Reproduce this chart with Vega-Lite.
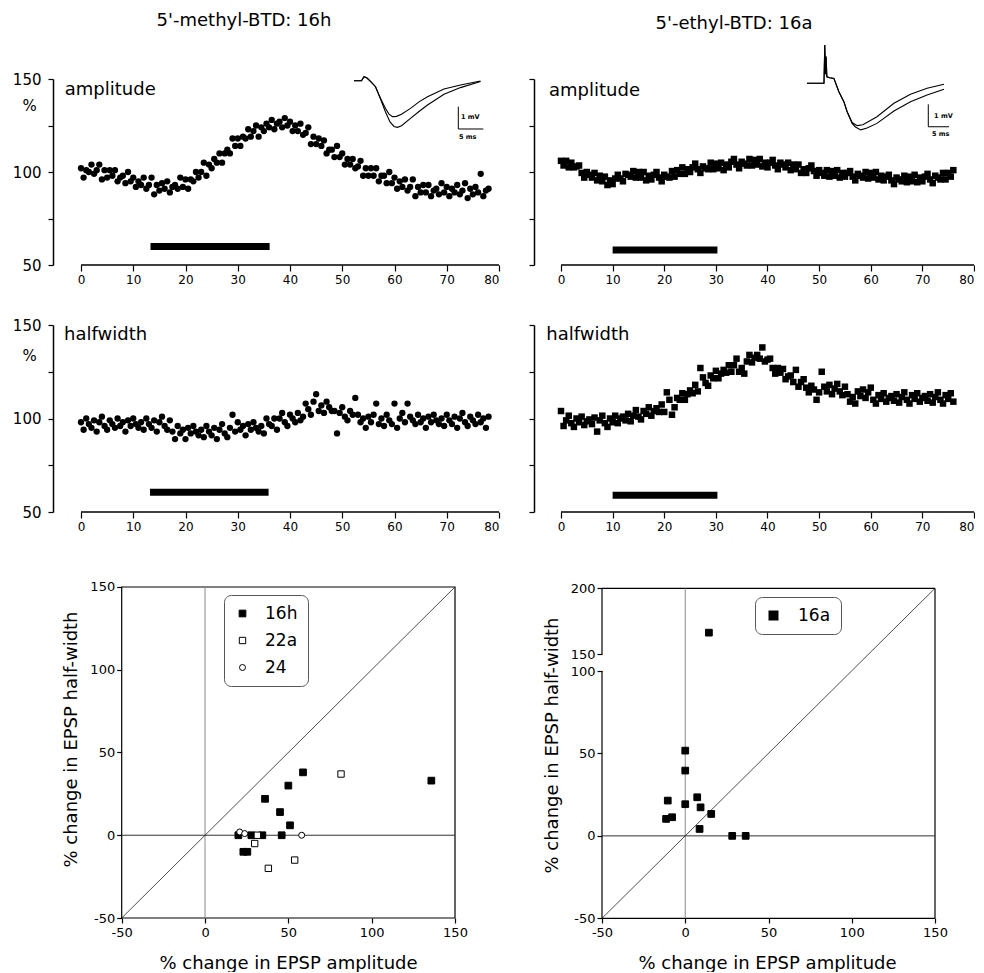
{
"$schema":"https://vega.github.io/schema/vega-lite/v6.json",
"padding":{"left":12,"top":12,"right":0,"bottom":0},
"background":"white",
"config":{"view":{"stroke":null},"font":"DejaVu Sans",
 "axis":{"grid":false,"domainColor":"black","tickColor":"black","labelColor":"black","titleColor":"black","labelFont":"DejaVu Sans","titleFont":"DejaVu Sans","titleFontWeight":"normal","domainWidth":1.5,"tickWidth":1.2},
 "text":{"font":"DejaVu Sans","color":"black"},
 "title":{"font":"DejaVu Sans","fontWeight":"normal","color":"black","fontSize":18},
 "legend":{"labelFont":"DejaVu Sans","labelColor":"black"}},
"resolve":{"scale":{"shape":"independent","fill":"independent","size":"independent","stroke":"independent"},"legend":{"shape":"independent","fill":"independent","size":"independent","stroke":"independent"}},
"datasets":{
"one":[{}],
"ampL":[{"t":0,"v":102},{"t":0.5,"v":97},{"t":1,"v":101},{"t":1.5,"v":100},{"t":2,"v":104},{"t":2.5,"v":99},{"t":3,"v":101},{"t":3.5,"v":104},{"t":4,"v":96},{"t":4.5,"v":101},{"t":5,"v":97},{"t":5.5,"v":101},{"t":6,"v":98},{"t":6.5,"v":101},{"t":7,"v":95},{"t":7.5,"v":97},{"t":8,"v":98},{"t":8.5,"v":94},{"t":9,"v":100},{"t":9.5,"v":95},{"t":10,"v":97},{"t":10.5,"v":92},{"t":11,"v":95},{"t":11.5,"v":93},{"t":12,"v":97},{"t":12.5,"v":91},{"t":13,"v":93},{"t":13.5,"v":97},{"t":14,"v":88},{"t":14.5,"v":93},{"t":15,"v":90},{"t":15.5,"v":94},{"t":16,"v":91},{"t":16.5,"v":95},{"t":17,"v":89},{"t":17.5,"v":92},{"t":18,"v":93},{"t":18.5,"v":91},{"t":19,"v":97},{"t":19.5,"v":92},{"t":20,"v":96},{"t":20.5,"v":91},{"t":21,"v":96},{"t":21.5,"v":95},{"t":22,"v":100},{"t":22.5,"v":97},{"t":23,"v":100},{"t":23.5,"v":105},{"t":24,"v":98},{"t":24.5,"v":104},{"t":25,"v":102},{"t":25.5,"v":107},{"t":26,"v":105},{"t":26.5,"v":110},{"t":27,"v":105},{"t":27.5,"v":110},{"t":28,"v":112},{"t":28.5,"v":110},{"t":29,"v":118},{"t":29.5,"v":114},{"t":30,"v":118},{"t":30.5,"v":114},{"t":31,"v":119},{"t":31.5,"v":118},{"t":32,"v":123},{"t":32.5,"v":119},{"t":33,"v":122},{"t":33.5,"v":125},{"t":34,"v":119},{"t":34.5,"v":124},{"t":35,"v":122},{"t":35.5,"v":126},{"t":36,"v":124},{"t":36.5,"v":128},{"t":37,"v":123},{"t":37.5,"v":126},{"t":38,"v":127},{"t":38.5,"v":124},{"t":39,"v":129},{"t":39.5,"v":125},{"t":40,"v":127},{"t":40.5,"v":122},{"t":41,"v":125},{"t":41.5,"v":122},{"t":42,"v":126},{"t":42.5,"v":120},{"t":43,"v":121},{"t":43.5,"v":124},{"t":44,"v":115},{"t":44.5,"v":119},{"t":45,"v":115},{"t":45.5,"v":118},{"t":46,"v":114},{"t":46.5,"v":117},{"t":47,"v":110},{"t":47.5,"v":112},{"t":48,"v":112},{"t":48.5,"v":108},{"t":49,"v":114},{"t":49.5,"v":108},{"t":50,"v":110},{"t":50.5,"v":104},{"t":51,"v":107},{"t":51.5,"v":104},{"t":52,"v":107},{"t":52.5,"v":102},{"t":53,"v":103},{"t":53.5,"v":106},{"t":54,"v":98},{"t":54.5,"v":102},{"t":55,"v":98},{"t":55.5,"v":102},{"t":56,"v":98},{"t":56.5,"v":102},{"t":57,"v":95},{"t":57.5,"v":98},{"t":58,"v":98},{"t":58.5,"v":94},{"t":59,"v":100},{"t":59.5,"v":94},{"t":60,"v":97},{"t":60.5,"v":91},{"t":61,"v":95},{"t":61.5,"v":92},{"t":62,"v":96},{"t":62.5,"v":90},{"t":63,"v":92},{"t":63.5,"v":96},{"t":64,"v":87},{"t":64.5,"v":92},{"t":65,"v":89},{"t":65.5,"v":93},{"t":66,"v":89},{"t":66.5,"v":93},{"t":67,"v":87},{"t":67.5,"v":90},{"t":68,"v":91},{"t":68.5,"v":88},{"t":69,"v":94},{"t":69.5,"v":89},{"t":70,"v":92},{"t":70.5,"v":87},{"t":71,"v":91},{"t":71.5,"v":89},{"t":72,"v":93},{"t":72.5,"v":88},{"t":73,"v":90},{"t":73.5,"v":94},{"t":74,"v":86},{"t":74.5,"v":91},{"t":75,"v":88},{"t":75.5,"v":92},{"t":76,"v":89},{"t":76.5,"v":99},{"t":77,"v":87},{"t":77.5,"v":90},{"t":78,"v":91}],
"hwL":[{"t":0,"v":98},{"t":0.5,"v":94},{"t":1,"v":100},{"t":1.5,"v":97},{"t":2,"v":95},{"t":2.5,"v":99},{"t":3,"v":93},{"t":3.5,"v":98},{"t":4,"v":101},{"t":4.5,"v":96},{"t":5,"v":94},{"t":5.5,"v":99},{"t":6,"v":97},{"t":6.5,"v":95},{"t":7,"v":100},{"t":7.5,"v":96},{"t":8,"v":98},{"t":8.5,"v":93},{"t":9,"v":99},{"t":9.5,"v":96},{"t":10,"v":100},{"t":10.5,"v":97},{"t":11,"v":95},{"t":11.5,"v":98},{"t":12,"v":94},{"t":12.5,"v":100},{"t":13,"v":97},{"t":13.5,"v":95},{"t":14,"v":99},{"t":14.5,"v":93},{"t":15,"v":98},{"t":15.5,"v":101},{"t":16,"v":96},{"t":16.5,"v":94},{"t":17,"v":99},{"t":17.5,"v":93},{"t":18,"v":89},{"t":18.5,"v":96},{"t":19,"v":92},{"t":19.5,"v":94},{"t":20,"v":89},{"t":20.5,"v":95},{"t":21,"v":92},{"t":21.5,"v":96},{"t":22,"v":93},{"t":22.5,"v":91},{"t":23,"v":94},{"t":23.5,"v":90},{"t":24,"v":96},{"t":24.5,"v":93},{"t":25,"v":91},{"t":25.5,"v":95},{"t":26,"v":89},{"t":26.5,"v":94},{"t":27,"v":97},{"t":27.5,"v":92},{"t":28,"v":90},{"t":28.5,"v":95},{"t":29,"v":102},{"t":29.5,"v":93},{"t":30,"v":98},{"t":30.5,"v":94},{"t":31,"v":96},{"t":31.5,"v":91},{"t":32,"v":97},{"t":32.5,"v":94},{"t":33,"v":98},{"t":33.5,"v":95},{"t":34,"v":93},{"t":34.5,"v":96},{"t":35,"v":92},{"t":35.5,"v":100},{"t":36,"v":97},{"t":36.5,"v":96},{"t":37,"v":100},{"t":37.5,"v":94},{"t":38,"v":100},{"t":38.5,"v":103},{"t":39,"v":98},{"t":39.5,"v":96},{"t":40,"v":102},{"t":40.5,"v":100},{"t":41,"v":98},{"t":41.5,"v":103},{"t":42,"v":99},{"t":42.5,"v":101},{"t":43,"v":108},{"t":43.5,"v":105},{"t":44,"v":102},{"t":44.5,"v":109},{"t":45,"v":113},{"t":45.5,"v":104},{"t":46,"v":107},{"t":46.5,"v":103},{"t":47,"v":109},{"t":47.5,"v":106},{"t":48,"v":104},{"t":48.5,"v":104},{"t":49,"v":92},{"t":49.5,"v":103},{"t":50,"v":106},{"t":50.5,"v":101},{"t":51,"v":99},{"t":51.5,"v":104},{"t":52,"v":102},{"t":52.5,"v":111},{"t":53,"v":102},{"t":53.5,"v":98},{"t":54,"v":100},{"t":54.5,"v":95},{"t":55,"v":101},{"t":55.5,"v":98},{"t":56,"v":102},{"t":56.5,"v":108},{"t":57,"v":97},{"t":57.5,"v":100},{"t":58,"v":96},{"t":58.5,"v":102},{"t":59,"v":99},{"t":59.5,"v":97},{"t":60,"v":108},{"t":60.5,"v":95},{"t":61,"v":100},{"t":61.5,"v":103},{"t":62,"v":98},{"t":62.5,"v":108},{"t":63,"v":101},{"t":63.5,"v":99},{"t":64,"v":97},{"t":64.5,"v":102},{"t":65,"v":98},{"t":65.5,"v":100},{"t":66,"v":95},{"t":66.5,"v":101},{"t":67,"v":98},{"t":67.5,"v":102},{"t":68,"v":99},{"t":68.5,"v":97},{"t":69,"v":100},{"t":69.5,"v":96},{"t":70,"v":102},{"t":70.5,"v":99},{"t":71,"v":97},{"t":71.5,"v":101},{"t":72,"v":95},{"t":72.5,"v":100},{"t":73,"v":103},{"t":73.5,"v":98},{"t":74,"v":96},{"t":74.5,"v":101},{"t":75,"v":99},{"t":75.5,"v":97},{"t":76,"v":102},{"t":76.5,"v":98},{"t":77,"v":100},{"t":77.5,"v":95},{"t":78,"v":101}],
"ampR":[{"t":0,"v":106},{"t":0.5,"v":103.5},{"t":1,"v":106},{"t":1.5,"v":102.5},{"t":2,"v":105},{"t":2.5,"v":102.5},{"t":3,"v":103},{"t":3.5,"v":103.5},{"t":4,"v":99.5},{"t":4.5,"v":97},{"t":5,"v":100},{"t":5.5,"v":98.5},{"t":6,"v":97},{"t":6.5,"v":99.5},{"t":7,"v":95.5},{"t":7.5,"v":98},{"t":8,"v":95},{"t":8.5,"v":97.5},{"t":9,"v":93},{"t":9.5,"v":95.5},{"t":10,"v":93.5},{"t":10.5,"v":96.5},{"t":11,"v":98.5},{"t":11.5,"v":96.5},{"t":12,"v":95},{"t":12.5,"v":99},{"t":13,"v":98.5},{"t":13.5,"v":97.5},{"t":14,"v":100.5},{"t":14.5,"v":97},{"t":15,"v":100},{"t":15.5,"v":97},{"t":16,"v":100},{"t":16.5,"v":95.5},{"t":17,"v":98},{"t":17.5,"v":96},{"t":18,"v":98.5},{"t":18.5,"v":100},{"t":19,"v":97},{"t":19.5,"v":95},{"t":20,"v":98.5},{"t":20.5,"v":97.5},{"t":21,"v":97},{"t":21.5,"v":100.5},{"t":22,"v":97.5},{"t":22.5,"v":101},{"t":23,"v":99},{"t":23.5,"v":102.5},{"t":24,"v":99},{"t":24.5,"v":101.5},{"t":25,"v":100},{"t":25.5,"v":102.5},{"t":26,"v":104.5},{"t":26.5,"v":101.5},{"t":27,"v":99.5},{"t":27.5,"v":103},{"t":28,"v":102},{"t":28.5,"v":101.5},{"t":29,"v":105},{"t":29.5,"v":101.5},{"t":30,"v":104.5},{"t":30.5,"v":102},{"t":31,"v":105},{"t":31.5,"v":101},{"t":32,"v":104},{"t":32.5,"v":102.5},{"t":33,"v":105.5},{"t":33.5,"v":107},{"t":34,"v":104},{"t":34.5,"v":102},{"t":35,"v":105.5},{"t":35.5,"v":104.5},{"t":36,"v":103.5},{"t":36.5,"v":107},{"t":37,"v":103.5},{"t":37.5,"v":106.5},{"t":38,"v":104},{"t":38.5,"v":107},{"t":39,"v":103},{"t":39.5,"v":105},{"t":40,"v":102.5},{"t":40.5,"v":105},{"t":41,"v":106.5},{"t":41.5,"v":103.5},{"t":42,"v":101.5},{"t":42.5,"v":105},{"t":43,"v":104},{"t":43.5,"v":102.5},{"t":44,"v":105},{"t":44.5,"v":101},{"t":45,"v":104},{"t":45.5,"v":101.5},{"t":46,"v":104},{"t":46.5,"v":99.5},{"t":47,"v":101.5},{"t":47.5,"v":99.5},{"t":48,"v":102},{"t":48.5,"v":103.5},{"t":49,"v":100.5},{"t":49.5,"v":98},{"t":50,"v":101},{"t":50.5,"v":99.5},{"t":51,"v":98},{"t":51.5,"v":101},{"t":52,"v":97.5},{"t":52.5,"v":100.5},{"t":53,"v":98},{"t":53.5,"v":101},{"t":54,"v":97},{"t":54.5,"v":99.5},{"t":55,"v":97.5},{"t":55.5,"v":99.5},{"t":56,"v":100.5},{"t":56.5,"v":97.5},{"t":57,"v":95.5},{"t":57.5,"v":99},{"t":58,"v":98},{"t":58.5,"v":97},{"t":59,"v":100},{"t":59.5,"v":96.5},{"t":60,"v":99.5},{"t":60.5,"v":97},{"t":61,"v":100},{"t":61.5,"v":96},{"t":62,"v":98},{"t":62.5,"v":95.5},{"t":63,"v":97.5},{"t":63.5,"v":98.5},{"t":64,"v":95.5},{"t":64.5,"v":93.5},{"t":65,"v":97},{"t":65.5,"v":96},{"t":66,"v":95},{"t":66.5,"v":98},{"t":67,"v":94.5},{"t":67.5,"v":97.5},{"t":68,"v":95},{"t":68.5,"v":98.5},{"t":69,"v":94.5},{"t":69.5,"v":97},{"t":70,"v":95},{"t":70.5,"v":97.5},{"t":71,"v":99},{"t":71.5,"v":96},{"t":72,"v":94},{"t":72.5,"v":98},{"t":73,"v":97},{"t":73.5,"v":96},{"t":74,"v":99.5},{"t":74.5,"v":96},{"t":75,"v":99.5},{"t":75.5,"v":97.5},{"t":76,"v":101}],
"hwR":[{"t":0,"v":104},{"t":0.5,"v":96},{"t":1,"v":99},{"t":1.5,"v":101.5},{"t":2,"v":97.5},{"t":2.5,"v":95.5},{"t":3,"v":100},{"t":3.5,"v":98},{"t":4,"v":101},{"t":4.5,"v":96.5},{"t":5,"v":98.5},{"t":5.5,"v":99.5},{"t":6,"v":97},{"t":6.5,"v":100.5},{"t":7,"v":93},{"t":7.5,"v":99},{"t":8,"v":101.5},{"t":8.5,"v":97.5},{"t":9,"v":95.5},{"t":9.5,"v":100},{"t":10,"v":98},{"t":10.5,"v":101.5},{"t":11,"v":97.5},{"t":11.5,"v":100},{"t":12,"v":101},{"t":12.5,"v":99},{"t":13,"v":102.5},{"t":13.5,"v":98.5},{"t":14,"v":101.5},{"t":14.5,"v":104.5},{"t":15,"v":101},{"t":15.5,"v":99.5},{"t":16,"v":104},{"t":16.5,"v":102.5},{"t":17,"v":106},{"t":17.5,"v":101.5},{"t":18,"v":104},{"t":18.5,"v":105.5},{"t":19,"v":103.5},{"t":19.5,"v":107.5},{"t":20,"v":103.5},{"t":20.5,"v":114},{"t":21,"v":110},{"t":21.5,"v":102},{"t":22,"v":106},{"t":22.5,"v":111},{"t":23,"v":110},{"t":23.5,"v":113.5},{"t":24,"v":110},{"t":24.5,"v":113},{"t":25,"v":115},{"t":25.5,"v":113.5},{"t":26,"v":118},{"t":26.5,"v":114.5},{"t":27,"v":127},{"t":27.5,"v":122},{"t":28,"v":119},{"t":28.5,"v":117.5},{"t":29,"v":123},{"t":29.5,"v":121.5},{"t":30,"v":125.5},{"t":30.5,"v":121.5},{"t":31,"v":124},{"t":31.5,"v":126},{"t":32,"v":124.5},{"t":32.5,"v":128.5},{"t":33,"v":125},{"t":33.5,"v":128.5},{"t":34,"v":132},{"t":34.5,"v":125},{"t":35,"v":127},{"t":35.5,"v":124},{"t":36,"v":130.5},{"t":36.5,"v":134},{"t":37,"v":130},{"t":37.5,"v":132.5},{"t":38,"v":134},{"t":38.5,"v":132},{"t":39,"v":138},{"t":39.5,"v":130.5},{"t":40,"v":131.5},{"t":40.5,"v":132},{"t":41,"v":127},{"t":41.5,"v":124},{"t":42,"v":127},{"t":42.5,"v":124.5},{"t":43,"v":126.5},{"t":43.5,"v":121},{"t":44,"v":122.5},{"t":44.5,"v":123},{"t":45,"v":119.5},{"t":45.5,"v":126},{"t":46,"v":117},{"t":46.5,"v":119.5},{"t":47,"v":121},{"t":47.5,"v":116.5},{"t":48,"v":114},{"t":48.5,"v":117.5},{"t":49,"v":115.5},{"t":49.5,"v":110},{"t":50,"v":114},{"t":50.5,"v":125},{"t":51,"v":117},{"t":51.5,"v":114.5},{"t":52,"v":118},{"t":52.5,"v":113},{"t":53,"v":116},{"t":53.5,"v":118.5},{"t":54,"v":114.5},{"t":54.5,"v":112.5},{"t":55,"v":117},{"t":55.5,"v":113},{"t":56,"v":109},{"t":56.5,"v":111.5},{"t":57,"v":108},{"t":57.5,"v":114.5},{"t":58,"v":112},{"t":58.5,"v":115.5},{"t":59,"v":111},{"t":59.5,"v":114},{"t":60,"v":116.5},{"t":60.5,"v":110},{"t":61,"v":108},{"t":61.5,"v":112.5},{"t":62,"v":110.5},{"t":62.5,"v":113.5},{"t":63,"v":109},{"t":63.5,"v":111},{"t":64,"v":112},{"t":64.5,"v":109.5},{"t":65,"v":113},{"t":65.5,"v":108.5},{"t":66,"v":111.5},{"t":66.5,"v":114},{"t":67,"v":110},{"t":67.5,"v":108},{"t":68,"v":112.5},{"t":68.5,"v":110.5},{"t":69,"v":113.5},{"t":69.5,"v":109},{"t":70,"v":111},{"t":70.5,"v":112},{"t":71,"v":109.5},{"t":71.5,"v":113},{"t":72,"v":108.5},{"t":72.5,"v":111.5},{"t":73,"v":114},{"t":73.5,"v":110},{"t":74,"v":108},{"t":74.5,"v":112.5},{"t":75,"v":110.5},{"t":75.5,"v":113.5},{"t":76,"v":109}],
"trL":[{"tr":"A","ms":0,"mV":0},{"tr":"A","ms":1.5,"mV":0},{"tr":"A","ms":2,"mV":0.18},{"tr":"A","ms":2.6,"mV":0.12},{"tr":"A","ms":3.4,"mV":-0.05},{"tr":"A","ms":4.3,"mV":-0.27},{"tr":"A","ms":5.3,"mV":-0.79},{"tr":"A","ms":6.3,"mV":-1.25},{"tr":"A","ms":7,"mV":-1.5},{"tr":"A","ms":7.7,"mV":-1.61},{"tr":"A","ms":8.5,"mV":-1.6},{"tr":"A","ms":9.5,"mV":-1.5},{"tr":"A","ms":11.3,"mV":-1.24},{"tr":"A","ms":13,"mV":-0.95},{"tr":"A","ms":14.7,"mV":-0.72},{"tr":"A","ms":18,"mV":-0.37},{"tr":"A","ms":21.3,"mV":-0.19},{"tr":"A","ms":25.3,"mV":-0.01},
 {"tr":"B","ms":0,"mV":0},{"tr":"B","ms":1.5,"mV":0},{"tr":"B","ms":2,"mV":0.18},{"tr":"B","ms":2.6,"mV":0.12},{"tr":"B","ms":3.4,"mV":-0.05},{"tr":"B","ms":4.3,"mV":-0.27},{"tr":"B","ms":5.3,"mV":-0.82},{"tr":"B","ms":6.3,"mV":-1.4},{"tr":"B","ms":7.2,"mV":-1.85},{"tr":"B","ms":8,"mV":-2.05},{"tr":"B","ms":8.7,"mV":-2.09},{"tr":"B","ms":9.5,"mV":-2.02},{"tr":"B","ms":11.3,"mV":-1.69},{"tr":"B","ms":13,"mV":-1.38},{"tr":"B","ms":14.7,"mV":-1.09},{"tr":"B","ms":18,"mV":-0.61},{"tr":"B","ms":21.3,"mV":-0.31},{"tr":"B","ms":25.3,"mV":-0.04}],
"trR":[{"tr":"A","ms":0,"mV":0},{"tr":"A","ms":4.1,"mV":0},{"tr":"A","ms":4.3,"mV":1.71},{"tr":"A","ms":4.45,"mV":0.4},{"tr":"A","ms":4.6,"mV":1.2},{"tr":"A","ms":4.8,"mV":0.29},{"tr":"A","ms":5.5,"mV":0.25},{"tr":"A","ms":6.5,"mV":0.22},{"tr":"A","ms":7.7,"mV":-0.375},{"tr":"A","ms":8.9,"mV":-0.82},{"tr":"A","ms":9.7,"mV":-1.27},{"tr":"A","ms":10.9,"mV":-1.75},{"tr":"A","ms":12.1,"mV":-1.89},{"tr":"A","ms":13.5,"mV":-1.85},{"tr":"A","ms":16.9,"mV":-1.49},{"tr":"A","ms":21,"mV":-0.89},{"tr":"A","ms":25,"mV":-0.49},{"tr":"A","ms":29,"mV":-0.22},{"tr":"A","ms":33.1,"mV":-0.045},
 {"tr":"B","ms":0,"mV":0},{"tr":"B","ms":4.1,"mV":0},{"tr":"B","ms":4.3,"mV":1.71},{"tr":"B","ms":4.45,"mV":0.4},{"tr":"B","ms":4.6,"mV":1.2},{"tr":"B","ms":4.8,"mV":0.29},{"tr":"B","ms":5.5,"mV":0.25},{"tr":"B","ms":6.5,"mV":0.22},{"tr":"B","ms":7.7,"mV":-0.375},{"tr":"B","ms":8.9,"mV":-0.82},{"tr":"B","ms":9.7,"mV":-1.27},{"tr":"B","ms":10.9,"mV":-1.79},{"tr":"B","ms":11.7,"mV":-1.95},{"tr":"B","ms":13,"mV":-2.08},{"tr":"B","ms":14.5,"mV":-2.0},{"tr":"B","ms":16.9,"mV":-1.79},{"tr":"B","ms":21,"mV":-1.24},{"tr":"B","ms":25,"mV":-0.82},{"tr":"B","ms":29,"mV":-0.52},{"tr":"B","ms":33.1,"mV":-0.27}],
"scatL":[{"a":20,"h":0,"s":"16h"},{"a":27.8,"h":0,"s":"16h"},{"a":34.4,"h":0,"s":"16h"},{"a":23,"h":-10,"s":"16h"},{"a":25.4,"h":-10,"s":"16h"},{"a":36,"h":22,"s":"16h"},{"a":45,"h":14,"s":"16h"},{"a":50,"h":30,"s":"16h"},{"a":51,"h":6,"s":"16h"},{"a":46,"h":0,"s":"16h"},{"a":58.8,"h":38,"s":"16h"},{"a":135.8,"h":33,"s":"16h"},{"a":29.8,"h":-5,"s":"22a"},{"a":31.4,"h":0,"s":"22a"},{"a":38,"h":-20,"s":"22a"},{"a":53.8,"h":-15,"s":"22a"},{"a":81.6,"h":37,"s":"22a"},{"a":20.8,"h":2,"s":"24"},{"a":23.8,"h":1,"s":"24"},{"a":58,"h":0,"s":"24"}],
"scatR":[{"a":14.2,"h":166.4,"s":"16a"},{"a":0,"h":51.7,"s":"16a"},{"a":0,"h":39.6,"s":"16a"},{"a":0,"h":19.2,"s":"16a"},{"a":-10.5,"h":21.4,"s":"16a"},{"a":-11.5,"h":10.3,"s":"16a"},{"a":-7.9,"h":11.3,"s":"16a"},{"a":7.2,"h":23.4,"s":"16a"},{"a":9.2,"h":17.3,"s":"16a"},{"a":15.6,"h":13.3,"s":"16a"},{"a":8.6,"h":4.2,"s":"16a"},{"a":28.2,"h":0,"s":"16a"},{"a":36.3,"h":0,"s":"16a"}]
},
"columns":2,
"bounds":"flush",
"align":"each",
"spacing":{"row":60,"column":35},
"concat":[
{
 "width":446,"height":186,
 "title":{"text":"5'-methyl-BTD: 16h","anchor":"middle","frame":"group","dx":-32,"offset":42},
 "resolve":{"scale":{"x":"independent","y":"independent"}},
 "layer":[
  {"layer":[
   {"data":{"name":"ampL"},"mark":{"type":"point","shape":"circle","filled":true,"color":"black","size":40,"opacity":1},
    "encoding":{"x":{"field":"t","type":"quantitative","scale":{"domain":[-5.36,80],"nice":false,"zero":false},
      "axis":{"values":[0,5,10,15,20,25,30,35,40,45,50,55,60,65,70,75,80],"labelExpr":"datum.value % 10 === 0 ? datum.label : ''","domain":false,"tickSize":{"condition":{"test":"datum.value % 10 !== 0","value":3},"value":6},"labelFontSize":12,"labelPadding":3,"title":null}},
     "y":{"field":"v","type":"quantitative","scale":{"domain":[50,150],"nice":false,"zero":false},
      "axis":{"values":[50,75,100,125,150],"labelExpr":"datum.value % 50 === 0 ? datum.label : ''","tickSize":5,"labelFontSize":15,"labelPadding":7,"title":"%","titleAngle":0,"titleFontSize":15,"titleAlign":"center","titleBaseline":"middle","titleX":-24,"titleY":26}}}},
   {"data":{"name":"one"},"mark":{"type":"rule","color":"black","strokeWidth":7},"encoding":{"x":{"datum":13.3},"x2":{"datum":36.1},"y":{"datum":60}}},
   {"data":{"name":"one"},"mark":{"type":"rule","color":"black","strokeWidth":1.5},"encoding":{"x":{"datum":0},"x2":{"datum":80},"y":{"datum":50}}},
   {"data":{"name":"one"},"mark":{"type":"text","align":"left","baseline":"top","fontSize":18},"encoding":{"x":{"datum":-3.1},"y":{"datum":149},"text":{"value":"amplitude"}}}
  ]},
  {"layer":[
   {"data":{"name":"trL"},"mark":{"type":"line","color":"black","strokeWidth":1.1},
    "encoding":{"x":{"field":"ms","type":"quantitative","scale":{"domain":[-60.2,29],"nice":false,"zero":false},"axis":null},
     "y":{"field":"mV","type":"quantitative","scale":{"domain":[-8.265,0.076],"nice":false,"zero":false},"axis":null},
     "detail":{"field":"tr","type":"nominal"}}},
   {"data":{"name":"one"},"mark":{"type":"rule","color":"black","strokeWidth":1},"encoding":{"x":{"datum":20.86,"axis":null},"y":{"datum":-1.166,"axis":null},"y2":{"datum":-2.166}}},
   {"data":{"name":"one"},"mark":{"type":"rule","color":"black","strokeWidth":1},"encoding":{"x":{"datum":20.86,"axis":null},"x2":{"datum":25.86},"y":{"datum":-2.166,"axis":null}}},
   {"data":{"name":"one"},"mark":{"type":"text","align":"left","baseline":"middle","fontSize":6.5,"fontWeight":"bold"},"encoding":{"x":{"datum":21.4,"axis":null},"y":{"datum":-1.64,"axis":null},"text":{"value":"1 mV"}}},
   {"data":{"name":"one"},"mark":{"type":"text","align":"left","baseline":"middle","fontSize":6.5,"fontWeight":"bold"},"encoding":{"x":{"datum":21.0,"axis":null},"y":{"datum":-2.51,"axis":null},"text":{"value":"5 ms"}}}
  ]}
 ]
},
{
 "width":440,"height":186,
 "title":{"text":"5'-ethyl-BTD: 16a","anchor":"middle","frame":"group","dx":-20,"offset":10},
 "resolve":{"scale":{"x":"independent","y":"independent"}},
 "layer":[
  {"layer":[
   {"data":{"name":"ampR"},"mark":{"type":"point","shape":"square","filled":true,"color":"black","size":42,"opacity":1},
    "encoding":{"x":{"field":"t","type":"quantitative","scale":{"domain":[-5.23,80],"nice":false,"zero":false},
      "axis":{"values":[0,5,10,15,20,25,30,35,40,45,50,55,60,65,70,75,80],"labelExpr":"datum.value % 10 === 0 ? datum.label : ''","domain":false,"tickSize":{"condition":{"test":"datum.value % 10 !== 0","value":3},"value":6},"labelFontSize":12,"labelPadding":3,"title":null}},
     "y":{"field":"v","type":"quantitative","scale":{"domain":[50,150],"nice":false,"zero":false},
      "axis":{"values":[50,75,100,125,150],"labels":false,"tickSize":5,"title":null}}}},
   {"data":{"name":"one"},"mark":{"type":"rule","color":"black","strokeWidth":7},"encoding":{"x":{"datum":10},"x2":{"datum":30.3},"y":{"datum":58}}},
   {"data":{"name":"one"},"mark":{"type":"rule","color":"black","strokeWidth":1.5},"encoding":{"x":{"datum":0},"x2":{"datum":80},"y":{"datum":50}}},
   {"data":{"name":"one"},"mark":{"type":"text","align":"left","baseline":"top","fontSize":18},"encoding":{"x":{"datum":-2.32},"y":{"datum":148.5},"text":{"value":"amplitude"}}}
  ]},
  {"layer":[
   {"data":{"name":"trR"},"mark":{"type":"line","color":"black","strokeWidth":1.1},
    "encoding":{"x":{"field":"ms","type":"quantitative","scale":{"domain":[-65.94,40.34],"nice":false,"zero":false},"axis":null},
     "y":{"field":"mV","type":"quantitative","scale":{"domain":[-8.112,0.192],"nice":false,"zero":false},"axis":null},
     "detail":{"field":"tr","type":"nominal"}}},
   {"data":{"name":"one"},"mark":{"type":"rule","color":"black","strokeWidth":1},"encoding":{"x":{"datum":29.3,"axis":null},"y":{"datum":-0.94,"axis":null},"y2":{"datum":-1.94}}},
   {"data":{"name":"one"},"mark":{"type":"rule","color":"black","strokeWidth":1},"encoding":{"x":{"datum":29.3,"axis":null},"x2":{"datum":34.3},"y":{"datum":-1.94,"axis":null}}},
   {"data":{"name":"one"},"mark":{"type":"text","align":"left","baseline":"middle","fontSize":6.5,"fontWeight":"bold"},"encoding":{"x":{"datum":30.7,"axis":null},"y":{"datum":-1.45,"axis":null},"text":{"value":"1 mV"}}},
   {"data":{"name":"one"},"mark":{"type":"text","align":"left","baseline":"middle","fontSize":6.5,"fontWeight":"bold"},"encoding":{"x":{"datum":30.2,"axis":null},"y":{"datum":-2.28,"axis":null},"text":{"value":"5 ms"}}}
  ]}
 ]
},
{
 "width":446,"height":187,
 "layer":[
  {"data":{"name":"hwL"},"mark":{"type":"point","shape":"circle","filled":true,"color":"black","size":40,"opacity":1},
   "encoding":{"x":{"field":"t","type":"quantitative","scale":{"domain":[-5.36,80],"nice":false,"zero":false},
     "axis":{"values":[0,5,10,15,20,25,30,35,40,45,50,55,60,65,70,75,80],"labelExpr":"datum.value % 10 === 0 ? datum.label : ''","domain":false,"tickSize":{"condition":{"test":"datum.value % 10 !== 0","value":3},"value":6},"labelFontSize":12,"labelPadding":3,"title":null}},
    "y":{"field":"v","type":"quantitative","scale":{"domain":[50,150],"nice":false,"zero":false},
     "axis":{"values":[50,75,100,125,150],"labelExpr":"datum.value % 50 === 0 ? datum.label : ''","tickSize":5,"labelFontSize":15,"labelPadding":7,"title":"%","titleAngle":0,"titleFontSize":15,"titleAlign":"center","titleBaseline":"middle","titleX":-24,"titleY":30}}}},
  {"data":{"name":"one"},"mark":{"type":"rule","color":"black","strokeWidth":7},"encoding":{"x":{"datum":13.2},"x2":{"datum":35.9},"y":{"datum":60.5}}},
  {"data":{"name":"one"},"mark":{"type":"rule","color":"black","strokeWidth":1.5},"encoding":{"x":{"datum":0},"x2":{"datum":80},"y":{"datum":50}}},
  {"data":{"name":"one"},"mark":{"type":"text","align":"left","baseline":"top","fontSize":18},"encoding":{"x":{"datum":-3.25},"y":{"datum":149.3},"text":{"value":"halfwidth"}}}
 ]
},
{
 "width":440,"height":187,
 "layer":[
  {"data":{"name":"hwR"},"mark":{"type":"point","shape":"square","filled":true,"color":"black","size":42,"opacity":1},
   "encoding":{"x":{"field":"t","type":"quantitative","scale":{"domain":[-5.23,80],"nice":false,"zero":false},
     "axis":{"values":[0,5,10,15,20,25,30,35,40,45,50,55,60,65,70,75,80],"labelExpr":"datum.value % 10 === 0 ? datum.label : ''","domain":false,"tickSize":{"condition":{"test":"datum.value % 10 !== 0","value":3},"value":6},"labelFontSize":12,"labelPadding":3,"title":null}},
    "y":{"field":"v","type":"quantitative","scale":{"domain":[50,150],"nice":false,"zero":false},
     "axis":{"values":[50,75,100,125,150],"labels":false,"tickSize":5,"title":null}}}},
  {"data":{"name":"one"},"mark":{"type":"rule","color":"black","strokeWidth":7},"encoding":{"x":{"datum":10},"x2":{"datum":30.3},"y":{"datum":59}}},
  {"data":{"name":"one"},"mark":{"type":"rule","color":"black","strokeWidth":1.5},"encoding":{"x":{"datum":0},"x2":{"datum":80},"y":{"datum":50}}},
  {"data":{"name":"one"},"mark":{"type":"text","align":"left","baseline":"top","fontSize":18},"encoding":{"x":{"datum":-2.85},"y":{"datum":149.6},"text":{"value":"halfwidth"}}}
 ]
},
{
 "width":446,"height":346,
 "layer":[
  {"data":{"name":"one"},"mark":{"type":"rect","fillOpacity":0,"stroke":"black","strokeWidth":1.2},
   "encoding":{"x":{"datum":-50,"type":"quantitative","scale":{"domain":[-91.22,176.4],"nice":false,"zero":false},
     "axis":{"values":[-50,0,50,100,150],"labelExpr":"'' + datum.value","domain":false,"tickSize":5,"labelFontSize":13,"labelPadding":3,"title":"% change in EPSP amplitude","titleFontSize":18,"titleX":235,"titlePadding":15}},
    "x2":{"datum":150},
    "y":{"datum":-50,"type":"quantitative","scale":{"domain":[-50,159.06],"nice":false,"zero":false},
     "axis":{"values":[-50,0,50,100,150],"labelExpr":"'' + datum.value","domain":false,"offset":-68.7,"tickSize":5,"labelFontSize":13,"labelPadding":2,"title":"% change in EPSP half-width","titleFontSize":18,"titleY":167,"titlePadding":9}},
    "y2":{"datum":150}}},
  {"data":{"name":"one"},"mark":{"type":"rule","color":"#8a8a8a","strokeWidth":1},"encoding":{"x":{"datum":0},"y":{"datum":-50},"y2":{"datum":150}}},
  {"data":{"name":"one"},"mark":{"type":"rule","color":"#333333","strokeWidth":1},"encoding":{"y":{"datum":0},"x":{"datum":-50},"x2":{"datum":150}}},
  {"data":{"values":[{"a":-50,"h":-50},{"a":150,"h":150}]},"mark":{"type":"line","color":"#222222","strokeWidth":0.8},"encoding":{"x":{"field":"a","type":"quantitative"},"y":{"field":"h","type":"quantitative"}}},
  {"data":{"name":"scatL"},"mark":{"type":"point","filled":true,"strokeWidth":1,"opacity":1},
   "encoding":{"x":{"field":"a","type":"quantitative"},"y":{"field":"h","type":"quantitative"},
    "shape":{"field":"s","type":"nominal","scale":{"domain":["16h","22a","24"],"range":["square","square","circle"]},
     "legend":{"orient":"none","legendX":171,"legendY":23,"title":null,"strokeColor":"#555555","cornerRadius":7,"padding":10,"rowPadding":9,"labelFontSize":17,"labelOffset":14,"symbolStrokeWidth":1,"fillColor":"white"}},
    "fill":{"field":"s","type":"nominal","scale":{"domain":["16h","22a","24"],"range":["black","white","white"]},
     "legend":{"orient":"none","legendX":171,"legendY":23,"title":null,"strokeColor":"#555555","cornerRadius":7,"padding":10,"rowPadding":9,"labelFontSize":17,"labelOffset":14,"symbolStrokeWidth":1,"fillColor":"white"}},
    "stroke":{"field":"s","type":"nominal","scale":{"domain":["16h","22a","24"],"range":["black","black","black"]},
     "legend":{"orient":"none","legendX":171,"legendY":23,"title":null,"strokeColor":"#555555","cornerRadius":7,"padding":10,"rowPadding":9,"labelFontSize":17,"labelOffset":14,"symbolStrokeWidth":1,"fillColor":"white"}},
    "size":{"field":"s","type":"nominal","scale":{"domain":["16h","22a","24"],"range":[45,36,28]},
     "legend":{"orient":"none","legendX":171,"legendY":23,"title":null,"strokeColor":"#555555","cornerRadius":7,"padding":10,"rowPadding":9,"labelFontSize":17,"labelOffset":14,"symbolStrokeWidth":1,"fillColor":"white"}}}}
 ]
},
{
 "width":440,"height":346,
 "layer":[
  {"data":{"name":"one"},"mark":{"type":"rule","color":"black","strokeWidth":1.2},
   "encoding":{"x":{"datum":-50,"type":"quantitative","scale":{"domain":[-90.84,173.42],"nice":false,"zero":false},
     "axis":{"values":[-50,0,50,100,150],"labelExpr":"'' + datum.value","domain":false,"tickSize":5,"labelFontSize":13,"labelPadding":3,"title":"% change in EPSP amplitude","titleFontSize":18,"titleX":233,"titlePadding":15}},
    "x2":{"datum":150},
    "y":{"datum":-50,"type":"quantitative","scale":{"domain":[-50,100,150,200],"range":[346.3,99,82.3,16.3],"nice":false,"zero":false},
     "axis":{"values":[-50,0,50,100,150,200],"labelExpr":"'' + datum.value","domain":false,"offset":-68,"tickSize":5,"labelFontSize":13,"labelPadding":2,"title":"% change in EPSP half-width","titleFontSize":18,"titleY":173,"titlePadding":9}}}},
  {"data":{"name":"one"},"mark":{"type":"rule","color":"black","strokeWidth":1.2},"encoding":{"x":{"datum":-50},"x2":{"datum":150},"y":{"datum":200}}},
  {"data":{"name":"one"},"mark":{"type":"rule","color":"black","strokeWidth":1.2},"encoding":{"x":{"datum":150},"y":{"datum":-50},"y2":{"datum":200}}},
  {"data":{"name":"one"},"mark":{"type":"rule","color":"black","strokeWidth":1.2},"encoding":{"x":{"datum":-50},"y":{"datum":-50},"y2":{"datum":100}}},
  {"data":{"name":"one"},"mark":{"type":"rule","color":"black","strokeWidth":1.2},"encoding":{"x":{"datum":-50},"y":{"datum":150},"y2":{"datum":200}}},
  {"data":{"name":"one"},"mark":{"type":"rule","color":"#8a8a8a","strokeWidth":1},"encoding":{"x":{"datum":0},"y":{"datum":-50},"y2":{"datum":200}}},
  {"data":{"name":"one"},"mark":{"type":"rule","color":"#333333","strokeWidth":1},"encoding":{"y":{"datum":0},"x":{"datum":-50},"x2":{"datum":150}}},
  {"data":{"values":[{"a":-50,"h":-50},{"a":150,"h":200}]},"mark":{"type":"line","color":"#222222","strokeWidth":0.8},"encoding":{"x":{"field":"a","type":"quantitative"},"y":{"field":"h","type":"quantitative"}}},
  {"data":{"name":"scatR"},"mark":{"type":"point","filled":true,"stroke":"black","strokeWidth":1,"opacity":1,"size":45},
   "encoding":{"x":{"field":"a","type":"quantitative"},"y":{"field":"h","type":"quantitative"},
    "shape":{"field":"s","type":"nominal","scale":{"domain":["16a"],"range":["square"]},
     "legend":{"orient":"none","legendX":221,"legendY":25,"title":null,"strokeColor":"#555555","cornerRadius":7,"padding":10,"labelFontSize":17,"labelOffset":16,"symbolStrokeColor":"black","symbolStrokeWidth":1,"fillColor":"white"}},
    "fill":{"field":"s","type":"nominal","scale":{"domain":["16a"],"range":["black"]},
     "legend":{"orient":"none","legendX":221,"legendY":25,"title":null,"strokeColor":"#555555","cornerRadius":7,"padding":10,"labelFontSize":17,"labelOffset":16,"symbolStrokeColor":"black","symbolStrokeWidth":1,"fillColor":"white"}}}}
 ]
}
]
}
